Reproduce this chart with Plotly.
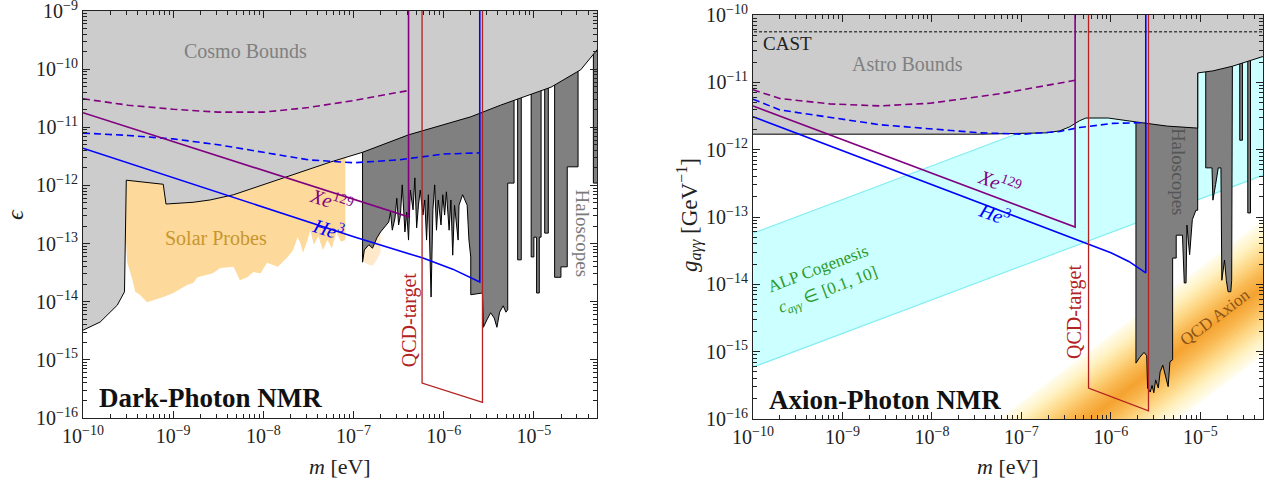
import numpy as np
import plotly.graph_objects as go

FONT = "Liberation Serif"

# ===================== Dark-Photon NMR panel (log10 values) =====================
dp_cosmo_logm = [-10.1, -10.00, -9.81, -9.62, -9.54, -9.52, -9.11, -9.08, -8.78, -8.59, -8.33, -7.26,
                 -6.90, -6.39, -5.70, -5.37, -4.81, -4.48, -4.29, -4.2, -4.2, -10.1]
dp_cosmo_logeps = [-14.49, -14.49, -14.35, -14.06, -13.83, -11.91, -11.98, -12.32, -12.29, -12.25, -12.16, -11.60,
                   -11.43, -11.13, -10.82, -10.62, -10.31, -10.01, -9.65, -9.50, -8.9, -8.9]

dp_solar_logm = [-9.52, -9.11, -9.08, -8.78, -8.59, -8.33, -7.26, -7.09,
                 -7.09, -7.14, -7.19, -7.24, -7.29, -7.34, -7.39, -7.44, -7.48, -7.51, -7.56, -7.59,
                 -7.62, -7.67, -7.73, -7.84, -7.96, -8.03, -8.11, -8.18, -8.26, -8.33, -8.48, -8.56,
                 -8.73, -8.78, -8.84, -9.00, -9.11, -9.22, -9.29, -9.37, -9.42, -9.46, -9.51, -9.53]
dp_solar_logeps = [-11.91, -11.98, -12.32, -12.29, -12.25, -12.16, -11.60, -11.51,
                   -12.94, -12.97, -12.80, -13.08, -12.94, -13.11, -12.87, -13.02, -12.77, -12.94, -13.16, -12.99,
                   -12.89, -13.11, -13.23, -13.40, -13.33, -13.51, -13.49, -13.58, -13.63, -13.40, -13.42, -13.51,
                   -13.58, -13.68, -13.71, -13.85, -13.92, -13.97, -14.01, -13.88, -13.83, -13.58, -13.32, -12.77]

dp_solar2_logm = [-6.90, -6.70, -6.70, -6.74, -6.79, -6.84, -6.90]
dp_solar2_logeps = [-12.85, -12.85, -13.15, -13.28, -13.38, -13.36, -13.30]

dp_halo_logm = [-6.90, -6.90, -6.88, -6.83, -6.79, -6.74, -6.70, -6.66, -6.61, -6.59,
                -6.57, -6.54, -6.52, -6.50, -6.48, -6.46, -6.43, -6.41, -6.39, -6.37,
                -6.34, -6.32, -6.30, -6.28, -6.26, -6.23, -6.21, -6.19, -6.17, -6.14,
                -6.12, -6.10, -6.08, -6.06, -6.03, -6.01, -5.99, -5.97, -5.94, -5.92,
                -5.90, -5.88, -5.86, -5.84, -5.83, -5.79, -5.74, -5.72, -5.70, -5.70,
                -5.57, -5.56, -5.52, -5.48, -5.44, -5.41, -5.38, -5.34, -5.31, -5.29,
                -5.29, -5.22, -5.22, -5.18, -5.18, -5.14, -5.14, -5.03, -5.03, -5.00,
                -5.00, -4.97, -4.97, -4.94, -4.94, -4.92, -4.92, -4.88, -4.88, -4.84,
                -4.84, -4.77, -4.77, -4.70, -4.70, -4.63, -4.63, -4.51, -4.51, -4.34,
                -4.34, -4.25, -4.25]
dp_halo_logeps = [-8.9, -13.32, -13.11, -13.02, -13.08, -12.90, -12.80, -12.73, -12.63, -12.46,
                  -12.77, -12.56, -12.22, -12.68, -12.51, -11.99, -12.80, -12.46, -12.94, -12.08,
                  -12.42, -11.87, -12.73, -12.34, -12.08, -12.51, -12.25, -12.94, -12.16, -13.92,
                  -12.42, -11.99, -12.77, -12.25, -12.68, -12.16, -12.51, -12.11, -12.77, -12.25,
                  -13.20, -12.34, -12.59, -12.94, -12.34, -12.16, -12.34, -12.94, -13.23, -13.88,
                  -13.85, -14.44, -14.31, -14.19, -14.28, -14.44, -14.18, -14.07, -14.18, -14.14,
                  -11.96, -11.96, -8.9, -8.9, -13.28, -13.28, -8.9, -8.9, -13.23, -13.23,
                  -12.89, -12.89, -13.85, -13.85, -12.89, -12.89, -8.9, -8.9, -12.82, -12.82,
                  -8.9, -8.9, -13.58, -13.58, -13.40, -13.40, -11.68, -11.68, -8.9, -8.9,
                  -11.96, -11.96, -8.9]

dp_xe_dash_logm = [-10.0, -9.5, -9.0, -8.5, -8.0, -7.5, -7.0, -6.40]
dp_xe_dash_logeps = [-10.51, -10.62, -10.69, -10.74, -10.74, -10.66, -10.54, -10.37]
dp_he_dash_logm = [-10.0, -9.5, -9.0, -8.5, -8.0, -7.5, -7.0, -6.5, -6.0, -5.60]
dp_he_dash_logeps = [-11.10, -11.14, -11.20, -11.30, -11.43, -11.56, -11.61, -11.56, -11.46, -11.44]

dp_xe_logm = [-10.0, -6.39, -6.39]
dp_xe_logeps = [-10.75, -12.54, -8.9]
dp_he_logm = [-10.0, -6.98, -6.23, -5.90, -5.60, -5.60]
dp_he_logeps = [-11.36, -12.89, -13.25, -13.44, -13.66, -8.9]
dp_qcd_logm = [-6.24, -6.24, -5.57, -5.57]
dp_qcd_logeps = [-8.9, -15.40, -15.73, -8.9]

# ===================== Axion-Photon NMR panel (log10 values) =====================
ap_alp_logm = [-10.1, -4.2]
ap_alp_upper_logg = [-13.29, -10.34]
ap_alp_lower_logg = [-15.28, -12.33]

ap_qcd_logm = [-8.0, -4.2]
ap_qcd_center_logg = [-17.75, -13.95]
ap_qcd_halfwidth = 1.0
# colour profile from the band edge (0) to its centre (1)
ap_qcd_profile_pos = [0.0, 0.25, 0.5, 0.75, 1.0]
ap_qcd_profile_rgb = [(255, 253, 240), (255, 241, 192), (254, 216, 135), (249, 186, 84), (245, 162, 48)]

ap_astro_logm = [-10.1, -7.46, -6.72, -6.57, -6.46, -6.35, -6.28, -6.03, -5.71, -5.37, -5.03, -5.03,
                 -4.86, -4.64, -4.31, -4.2, -4.2, -10.1]
ap_astro_logg = [-11.77, -11.77, -11.75, -11.72, -11.66, -11.57, -11.53, -11.53, -11.59, -11.65, -11.68, -10.86,
                 -10.83, -10.76, -10.62, -10.60, -9.9, -9.9]

ap_halo_logm = [-5.72, -5.72, -5.68, -5.63, -5.60, -5.59, -5.56, -5.54, -5.52, -5.50,
                -5.47, -5.45, -5.42, -5.39, -5.36, -5.34, -5.31, -5.31, -5.27, -5.27,
                -5.20, -5.18, -5.16, -5.15, -5.12, -5.09, -5.05, -5.03, -5.03, -4.94,
                -4.94, -4.87, -4.86, -4.83, -4.80, -4.77, -4.76, -4.73, -4.71, -4.69,
                -4.66, -4.65, -4.64, -4.56, -4.56, -4.53, -4.53, -4.47, -4.47, -4.44,
                -4.44, -4.2]
ap_halo_logg = [-9.9, -15.17, -15.09, -15.01, -15.06, -15.54, -15.60, -15.50, -15.61, -15.42,
                -15.54, -15.30, -15.20, -15.38, -15.52, -15.15, -15.12, -13.61, -13.61, -13.27,
                -13.27, -13.98, -13.98, -13.12, -13.56, -13.04, -12.90, -12.90, -9.9, -9.9,
                -12.27, -12.27, -12.75, -12.52, -12.27, -12.27, -13.94, -13.64, -13.94, -14.11,
                -14.11, -13.94, -9.9, -9.9, -11.86, -11.86, -9.9, -9.9, -12.94, -12.94,
                -9.9, -9.9]

ap_cast_logm = [-10.1, -4.2]
ap_cast_logg = [-10.25, -10.25]

ap_xe_dash_logm = [-10.0, -9.70, -9.14, -8.58, -8.02, -7.46, -7.24, -6.40]
ap_xe_dash_logg = [-11.11, -11.24, -11.32, -11.35, -11.31, -11.21, -11.17, -10.97]
ap_he_dash_logm = [-10.0, -9.70, -8.58, -7.46, -6.98, -6.57, -6.35, -5.98, -5.71, -5.61]
ap_he_dash_logg = [-11.25, -11.41, -11.63, -11.75, -11.77, -11.73, -11.67, -11.61, -11.60, -11.60]

ap_xe_logm = [-10.0, -6.40, -6.40]
ap_xe_logg = [-11.35, -13.15, -9.9]
ap_he_logm = [-10.0, -6.26, -6.00, -5.80, -5.61, -5.61]
ap_he_logg = [-11.51, -13.39, -13.53, -13.66, -13.83, -9.9]
ap_qcd_t_logm = [-6.25, -6.25, -5.58, -5.58]
ap_qcd_t_logg = [-9.9, -15.54, -15.88, -9.9]


def V(a):
    return 10 ** np.asarray(a, dtype=float)


LGRAY = "#cccccc"
DGRAY = "#808080"
PURPLE = "#800080"
BLUE = "#0000ff"
RED = "#b22222"

fig = go.Figure()


def poly(xs, ys, fill, ax, line_color=None, lw=1.0):
    fig.add_trace(go.Scatter(
        x=V(xs), y=V(ys), mode="lines", fill="toself", fillcolor=fill,
        line=dict(color=line_color if line_color else fill, width=lw if line_color else 0),
        xaxis="x" if ax == 1 else "x2", yaxis="y" if ax == 1 else "y2",
        hoverinfo="skip", showlegend=False))


def line(xs, ys, color, ax, dash="solid", lw=1.6):
    fig.add_trace(go.Scatter(
        x=V(xs), y=V(ys), mode="lines", line=dict(color=color, width=lw, dash=dash),
        xaxis="x" if ax == 1 else "x2", yaxis="y" if ax == 1 else "y2",
        hoverinfo="skip", showlegend=False))


# ---- left panel ----
poly(dp_solar_logm, dp_solar_logeps, "#fdd99b", 1)
poly(dp_solar2_logm, dp_solar2_logeps, "#feeacb", 1)
poly(dp_halo_logm, dp_halo_logeps, DGRAY, 1, "black", 1.0)
poly(dp_cosmo_logm, dp_cosmo_logeps, LGRAY, 1, "black", 1.0)
line(dp_xe_dash_logm, dp_xe_dash_logeps, PURPLE, 1, "7px,4px")
line(dp_he_dash_logm, dp_he_dash_logeps, BLUE, 1, "7px,4px")
line(dp_xe_logm, dp_xe_logeps, PURPLE, 1)
line(dp_he_logm, dp_he_logeps, BLUE, 1)
line(dp_qcd_logm, dp_qcd_logeps, RED, 1, lw=1.3)

# ---- right panel ----
alp_x = list(ap_alp_logm) + list(ap_alp_logm[::-1])
alp_y = list(ap_alp_upper_logg) + list(ap_alp_lower_logg[::-1])
poly(alp_x, alp_y, "#ccffff", 2, "#86eef2", 1.2)

N_BANDS = 24
prof = np.array(ap_qcd_profile_rgb, dtype=float)
for i in range(N_BANDS):
    d = ap_qcd_halfwidth * (1 - i / N_BANDS)
    t = (i + 0.5) / N_BANDS
    c = [np.interp(t, ap_qcd_profile_pos, prof[:, k]) for k in range(3)]
    col = "rgb(%d,%d,%d)" % tuple(int(round(v)) for v in c)
    bx = [ap_qcd_logm[0], ap_qcd_logm[1], ap_qcd_logm[1], ap_qcd_logm[0]]
    by = [ap_qcd_center_logg[0] + d, ap_qcd_center_logg[1] + d,
          ap_qcd_center_logg[1] - d, ap_qcd_center_logg[0] - d]
    poly(bx, by, col, 2)

poly(ap_halo_logm, ap_halo_logg, DGRAY, 2, "black", 1.0)
poly(ap_astro_logm, ap_astro_logg, LGRAY, 2, "black", 1.0)
line(ap_cast_logm, ap_cast_logg, "black", 2, "3px,2px", 1.0)
line(ap_xe_dash_logm, ap_xe_dash_logg, PURPLE, 2, "7px,4px")
line(ap_he_dash_logm, ap_he_dash_logg, BLUE, 2, "7px,4px")
line(ap_xe_logm, ap_xe_logg, PURPLE, 2)
line(ap_he_logm, ap_he_logg, BLUE, 2)
line(ap_qcd_t_logm, ap_qcd_t_logg, RED, 2, lw=1.3)

# ---- axes ----
FW, FH = 1276, 483


def sup(n):
    return "10<sup>\u2212%d</sup>" % n


def axis(domain, rng, exps, anchor):
    minor_vals = [float("%de-%d" % (k, e)) for e in range(4, 18) for k in range(2, 10)]
    return dict(
        type="log", domain=domain, range=rng, anchor=anchor,
        showline=True, linecolor="#222", linewidth=1, mirror="allticks",
        ticks="inside", ticklen=7, tickwidth=1, tickcolor="#222",
        tickmode="array", tickvals=[float("1e-%d" % e) for e in exps], ticktext=[sup(e) for e in exps],
        tickfont=dict(family=FONT, size=20, color="#222"), ticklabeloverflow="allow",
        minor=dict(ticks="inside", ticklen=4, tickwidth=1, tickcolor="#222",
                   tickmode="array", tickvals=minor_vals, showgrid=False),
        showgrid=False, zeroline=False, automargin=False,
    )


def px_x(p):
    return p / FW


def px_y(p):
    return 1 - p / FH


xd1 = [px_x(83), px_x(597)]
xd2 = [px_x(753), px_x(1263)]
yd1 = [px_y(418), px_y(11)]
yd2 = [px_y(419), px_y(15)]

layout = dict(
    width=FW, height=FH, margin=dict(l=0, r=0, t=0, b=0),
    paper_bgcolor="white", plot_bgcolor="white", showlegend=False,
    font=dict(family=FONT, size=20, color="#222"),
    xaxis=axis(xd1, [-10.0001, -4.3], [10, 9, 8, 7, 6, 5], "y"),
    yaxis=axis(yd1, [-16.0001, -8.9999], [16, 15, 14, 13, 12, 11, 10, 9], "x"),
    xaxis2=axis(xd2, [-10.0001, -4.3], [10, 9, 8, 7, 6, 5], "y2"),
    yaxis2=axis(yd2, [-16.0001, -9.9999], [16, 15, 14, 13, 12, 11, 10], "x2"),
)
fig.update_layout(**layout)


def ann(text, x, y, ax, color="#222", size=20, angle=0):
    fig.add_annotation(text=text, x=x, y=y, xref="x" if ax == 1 else "x2", yref="y" if ax == 1 else "y2",
                       showarrow=False, textangle=angle, xanchor="center", yanchor="middle",
                       font=dict(family=FONT, size=size, color=color))


ann("Cosmo Bounds", -8.20, -9.69, 1, "#808080", 20)
ann("Solar Probes", -8.53, -12.90, 1, "#c8962e", 20)
ann("<i>Xe</i><sup>129</sup>", -7.24, -12.25, 1, PURPLE, 20, 18)
ann("<i>He</i><sup>3</sup>", -7.28, -12.73, 1, BLUE, 20, 18)
ann("QCD-target", -6.38, -14.31, 1, RED, 20, -90)
ann("Haloscopes", -4.46, -12.82, 1, "#7a7a7a", 19, 90)
ann("<b>Dark-Photon NMR</b>", -8.59, -15.66, 1, "#111", 27)

ann("CAST", -9.61, -10.42, 2, "#222", 19)
ann("Astro Bounds", -8.27, -10.73, 2, "#808080", 20)
ann("<i>Xe</i><sup>129</sup>", -7.24, -12.48, 2, PURPLE, 20, 20.6)
ann("<i>He</i><sup>3</sup>", -7.30, -12.94, 2, BLUE, 20, 20.6)
ann("QCD-target", -6.40, -14.41, 2, RED, 20, -90)
ann("Haloscopes", -5.25, -12.33, 2, "#555555", 19, 90)
ann("ALP Cogenesis", -9.27, -13.76, 2, "#2a9a2a", 17, -20.6)
ann("<i>c</i><sub><i>a\u03b3\u03b3</i></sub> \u2208 [0.1, 10]", -9.16, -14.10, 2, "#2a9a2a", 17, -20.6)
ann("QCD Axion", -4.84, -14.49, 2, "#8c5418", 17, -37)
ann("<b>Axion-Photon NMR</b>", -8.53, -15.72, 2, "#111", 27)


def pann(text, x, y, size=22, angle=0):
    fig.add_annotation(text=text, x=px_x(x), y=px_y(y), xref="paper", yref="paper", showarrow=False,
                       textangle=angle, xanchor="center", yanchor="middle",
                       font=dict(family=FONT, size=size, color="#222"))


pann("<i>m</i> [eV]", 340, 466)
pann("<i>m</i> [eV]", 1008, 466)
pann("<i>\u03f5</i>", 15, 215, 24, -90)
pann("<i>g</i><sub><i>a\u03b3\u03b3</i></sub> [GeV<sup>\u22121</sup>]", 689, 215, 23, -90)

# remove the default page margin so the figure fills the window exactly
fig.write_html("out.html", config={"displayModeBar": False},
               post_script="document.body.style.margin='0px';")
